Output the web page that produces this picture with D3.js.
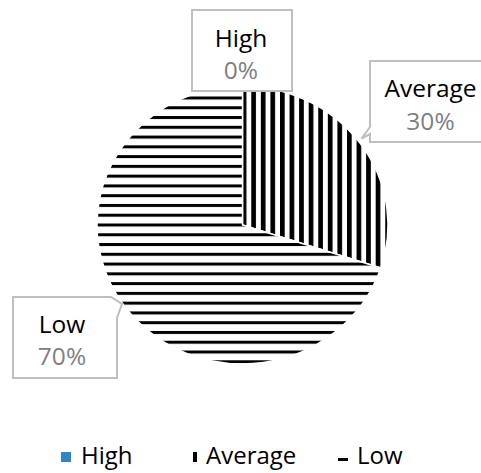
<!DOCTYPE html>
<html>
<head>
<meta charset="utf-8">
<script src="https://cdn.jsdelivr.net/npm/d3@7"></script>
<style>
  html, body { margin: 0; padding: 0; background: #fff; }
  svg { display: block; font-family: "Open Sans", sans-serif; }
</style>
</head>
<body>
<svg id="chart" width="481" height="473"></svg>
<script>
// ---- data ----
const categories = ["High", "Average", "Low"];
const values = [0, 30, 70];

// ---- layout ----
const W = 481, H = 473;
const cx = 242.5, cy = 225, rx = 145.5, ry = 139;
const fillKeys = ["solid-high", "vstripe", "hstripe"];

const svg = d3.select("#chart");
const defs = svg.append("defs");

const sy = ry / rx;
// vertical stripes (Average)
const pv = defs.append("pattern").attr("id", "vstripe")
  .attr("patternUnits", "userSpaceOnUse")
  .attr("x", -0.8).attr("y", 0).attr("width", 9.57).attr("height", 10);
pv.append("rect").attr("width", 9.57).attr("height", 10).attr("fill", "#fff");
pv.append("rect").attr("x", 0).attr("width", 4.7).attr("height", 10).attr("fill", "#000");
// horizontal lines (Low)
const ph = defs.append("pattern").attr("id", "hstripe")
  .attr("patternUnits", "userSpaceOnUse")
  .attr("x", 0).attr("y", -1.5 / sy).attr("width", 10).attr("height", 9.77 / sy);
ph.append("rect").attr("width", 10).attr("height", 9.77 / sy).attr("fill", "#fff");
ph.append("rect").attr("y", 0).attr("width", 10).attr("height", 3 / sy).attr("fill", "#000");

const colorFor = {
  "solid-high": "#2f85c6",
  "vstripe": "url(#vstripe)",
  "hstripe": "url(#hstripe)"
};

const pie = d3.pie().sort(null).value(d => d.value);
const arcs = pie(categories.map((c, i) => ({ cat: c, value: values[i], key: fillKeys[i] })));
const arc = d3.arc().innerRadius(0).outerRadius(rx);

const g = svg.append("g").attr("transform", `translate(${cx},${cy}) scale(1,${sy})`);
g.selectAll("path").data(arcs).join("path")
  .attr("d", arc)
  .attr("fill", d => colorFor[d.data.key])
  .attr("stroke", "#fff")
  .attr("stroke-width", 1.5)
  .attr("vector-effect", "non-scaling-stroke");

// ---- data labels (callout boxes) ----
const total = d3.sum(values);
const pct = v => Math.round(v / total * 100) + "%";
const boxes = [
  { path: "M192,10 H292 V91 H192 Z", tx: 241, ty1: 47, ty2: 79 },
  { path: "M370,61 H492 V142 H370 V134 L361.5,138.5 L370,127 Z", tx: 430.5, ty1: 97, ty2: 130 },
  { path: "M13,297 H111 L122,304 L117,318 V378 H13 Z", tx: 62, ty1: 333, ty2: 365 }
];
const lab = svg.append("g");
boxes.forEach((b, i) => {
  lab.append("path").attr("d", b.path)
    .attr("fill", "#fff").attr("stroke", "#bfbfbf").attr("stroke-width", 2)
    .attr("stroke-linejoin", "miter");
  lab.append("text").attr("x", b.tx).attr("y", b.ty1).attr("text-anchor", "middle")
    .attr("font-size", 24.5).attr("fill", "#000").text(categories[i]);
  lab.append("text").attr("x", b.tx).attr("y", b.ty2).attr("text-anchor", "middle")
    .attr("font-size", 24.5).attr("fill", "#7f7f7f").text(pct(values[i]));
});

// ---- legend ----
const lpv = defs.append("pattern").attr("id", "lv")
  .attr("patternUnits", "userSpaceOnUse").attr("width", 10).attr("height", 10);
lpv.append("rect").attr("width", 10).attr("height", 10).attr("fill", "#fff");
lpv.append("rect").attr("x", 3).attr("width", 4).attr("height", 10).attr("fill", "#000");
const lph = defs.append("pattern").attr("id", "lh")
  .attr("patternUnits", "userSpaceOnUse").attr("width", 10).attr("height", 10);
lph.append("rect").attr("width", 10).attr("height", 10).attr("fill", "#fff");
lph.append("rect").attr("y", 6).attr("width", 10).attr("height", 3).attr("fill", "#000");
const legendFill = ["#2f85c6", "url(#lv)", "url(#lh)"];
const legendX = [61, 190, 338];
const leg = svg.append("g");
categories.forEach((c, i) => {
  const gi = leg.append("g").attr("transform", `translate(${legendX[i]},452)`);
  gi.append("rect").attr("width", 10).attr("height", 10).attr("fill", legendFill[i]);
  gi.append("text").attr("x", i === 2 ? 19 : (i === 1 ? 16 : 20)).attr("y", 11.5)
    .attr("font-size", 24).attr("fill", "#000").text(c);
});
</script>
</body>
</html>
